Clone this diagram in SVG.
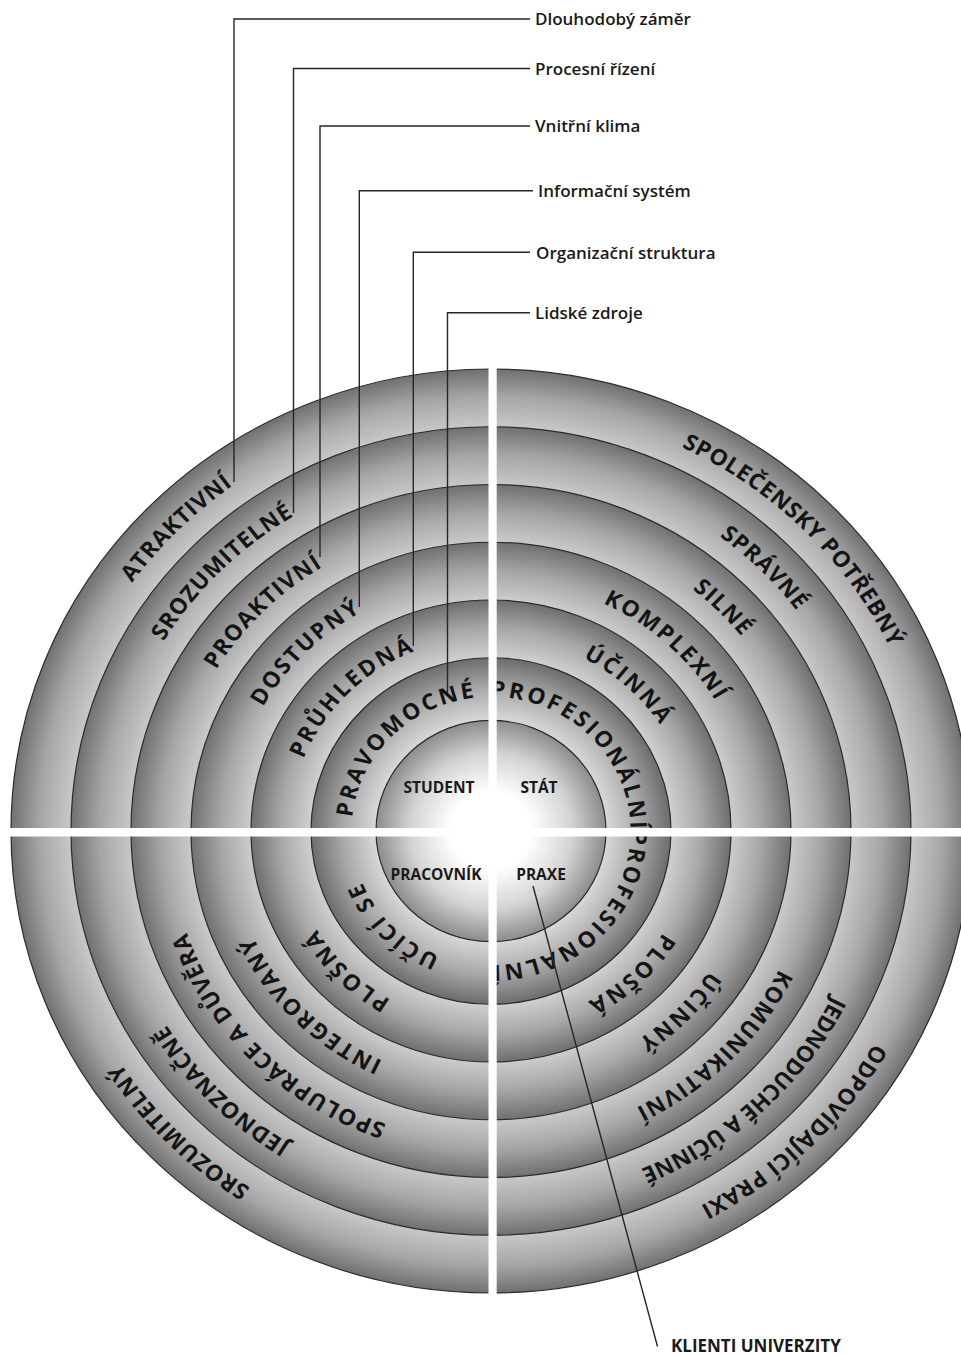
<svg xmlns="http://www.w3.org/2000/svg" width="961" height="1355" viewBox="0 0 961 1355">
  <defs>
    <!-- each ring: light at its inner edge, dark at its outer edge -->
    <radialGradient id="g-r1"><stop offset="0.875" stop-color="#c8c8c8"/><stop offset="0.94" stop-color="#a6a6a6"/><stop offset="1" stop-color="#707070"/></radialGradient>
    <radialGradient id="g-r2"><stop offset="0.857" stop-color="#c8c8c8"/><stop offset="0.93" stop-color="#a6a6a6"/><stop offset="1" stop-color="#707070"/></radialGradient>
    <radialGradient id="g-r3"><stop offset="0.833" stop-color="#cacaca"/><stop offset="0.917" stop-color="#a6a6a6"/><stop offset="1" stop-color="#707070"/></radialGradient>
    <radialGradient id="g-r4"><stop offset="0.8" stop-color="#cccccc"/><stop offset="0.9" stop-color="#a6a6a6"/><stop offset="1" stop-color="#707070"/></radialGradient>
    <radialGradient id="g-r5"><stop offset="0.75" stop-color="#d0d0d0"/><stop offset="0.875" stop-color="#a8a8a8"/><stop offset="1" stop-color="#6e6e6e"/></radialGradient>
    <radialGradient id="g-r6"><stop offset="0.639" stop-color="#d8d8d8"/><stop offset="0.82" stop-color="#aaaaaa"/><stop offset="1" stop-color="#6c6c6c"/></radialGradient>
    <radialGradient id="g-core"><stop offset="0" stop-color="#ffffff"/><stop offset="0.35" stop-color="#ffffff"/><stop offset="0.7" stop-color="#d4d4d4"/><stop offset="1" stop-color="#8c8c8c"/></radialGradient>

    <!-- clockwise quarter arcs used as text baselines (disc-centred coordinates) -->
    <path id="a1-tl" d="M -442 0 A 442 442 0 0 1 0 -442"/>
    <path id="a1-tr" d="M 0 -442 A 442 442 0 0 1 442 0"/>
    <path id="a1-br" d="M 442 0 A 442 442 0 0 1 0 442"/>
    <path id="a1-bl" d="M 0 442 A 442 442 0 0 1 -442 0"/>
    <path id="a2-tl" d="M -382 0 A 382 382 0 0 1 0 -382"/>
    <path id="a2-tr" d="M 0 -382 A 382 382 0 0 1 382 0"/>
    <path id="a2-br" d="M 382 0 A 382 382 0 0 1 0 382"/>
    <path id="a2-bl" d="M 0 382 A 382 382 0 0 1 -382 0"/>
    <path id="a3-tl" d="M -322 0 A 322 322 0 0 1 0 -322"/>
    <path id="a3-tr" d="M 0 -322 A 322 322 0 0 1 322 0"/>
    <path id="a3-br" d="M 322 0 A 322 322 0 0 1 0 322"/>
    <path id="a3-bl" d="M 0 322 A 322 322 0 0 1 -322 0"/>
    <path id="a4-tl" d="M -262 0 A 262 262 0 0 1 0 -262"/>
    <path id="a4-tr" d="M 0 -262 A 262 262 0 0 1 262 0"/>
    <path id="a4-br" d="M 262 0 A 262 262 0 0 1 0 262"/>
    <path id="a4-bl" d="M 0 262 A 262 262 0 0 1 -262 0"/>
    <path id="a5-tl" d="M -202 0 A 202 202 0 0 1 0 -202"/>
    <path id="a5-tr" d="M 0 -202 A 202 202 0 0 1 202 0"/>
    <path id="a5-br" d="M 202 0 A 202 202 0 0 1 0 202"/>
    <path id="a5-bl" d="M 0 202 A 202 202 0 0 1 -202 0"/>
    <path id="a6-tl" d="M -139.5 0 A 139.5 139.5 0 0 1 0 -139.5"/>
    <path id="a6-tr" d="M 0 -139.5 A 139.5 139.5 0 0 1 139.5 0"/>
    <path id="a6-br" d="M 139.5 0 A 139.5 139.5 0 0 1 0 139.5"/>
    <path id="a6-bl" d="M 0 139.5 A 139.5 139.5 0 0 1 -139.5 0"/>
  </defs>

  <style>
    .disc { stroke: #2b2b2b; stroke-width: 1.2; vector-effect: non-scaling-stroke; }
    .ring-label { font-family: "Open Sans", "Liberation Sans", sans-serif; font-weight: 700; font-size: 23px; fill: #141414; }
    .ls1 { letter-spacing: 0.6px; }
    .ls2 { letter-spacing: 0.8px; }
    .ls3 { letter-spacing: 1.2px; }
    .ls4 { letter-spacing: 2px; }
    .ls5 { letter-spacing: 2.4px; }
    .ls6 { letter-spacing: 2.6px; }
    .core-label { font-family: "Open Sans", "Liberation Sans", sans-serif; font-weight: 700; font-size: 15.5px; fill: #1a1a1a; text-anchor: middle; }
    .caption { font-family: "Open Sans", "Liberation Sans", sans-serif; font-weight: 600; font-size: 17px; fill: #1a1a1a; }
    .leader { stroke: #262626; stroke-width: 1.4; fill: none; }
    .divider { fill: #ffffff; }
  </style>

  <rect width="961" height="1355" fill="#ffffff"/>

  <!-- concentric rings, outermost first -->
  <g id="disc" transform="translate(491 831) scale(1 0.9625)">
    <g id="ring-1">
      <circle class="disc" r="480" fill="url(#g-r1)"/>
      <text class="ring-label ls1"><textPath href="#a1-tl" startOffset="50%" text-anchor="middle">ATRAKTIVNÍ</textPath></text>
      <text class="ring-label ls1"><textPath href="#a1-tr" startOffset="50%" text-anchor="middle">SPOLEČENSKY POTŘEBNÝ</textPath></text>
      <text class="ring-label ls1"><textPath href="#a1-br" startOffset="51%" text-anchor="middle">ODPOVÍDAJÍCÍ PRAXI</textPath></text>
      <text class="ring-label ls1"><textPath href="#a1-bl" startOffset="50%" text-anchor="middle">SROZUMITELNÝ</textPath></text>
    </g>
    <g id="ring-2">
      <circle class="disc" r="420" fill="url(#g-r2)"/>
      <text class="ring-label ls2"><textPath href="#a2-tl" startOffset="50%" text-anchor="middle">SROZUMITELNÉ</textPath></text>
      <text class="ring-label ls2"><textPath href="#a2-tr" startOffset="50%" text-anchor="middle">SPRÁVNÉ</textPath></text>
      <text class="ring-label" style="letter-spacing:-0.2px"><textPath href="#a2-br" startOffset="52%" text-anchor="middle">JEDNODUCHÉ A ÚČINNÉ</textPath></text>
      <text class="ring-label ls2"><textPath href="#a2-bl" startOffset="50%" text-anchor="middle">JEDNOZNAČNĚ</textPath></text>
    </g>
    <g id="ring-3">
      <circle class="disc" r="360" fill="url(#g-r3)"/>
      <text class="ring-label ls3"><textPath href="#a3-tl" startOffset="50%" text-anchor="middle">PROAKTIVNÍ</textPath></text>
      <text class="ring-label ls3"><textPath href="#a3-tr" startOffset="50%" text-anchor="middle">SILNÉ</textPath></text>
      <text class="ring-label ls3"><textPath href="#a3-br" startOffset="50%" text-anchor="middle">KOMUNIKATIVNÍ</textPath></text>
      <text class="ring-label ls3"><textPath href="#a3-bl" startOffset="50%" text-anchor="middle">SPOLUPRÁCE A DŮVĚRA</textPath></text>
    </g>
    <g id="ring-4">
      <circle class="disc" r="300" fill="url(#g-r4)"/>
      <text class="ring-label ls4"><textPath href="#a4-tl" startOffset="50%" text-anchor="middle">DOSTUPNÝ</textPath></text>
      <text class="ring-label ls4"><textPath href="#a4-tr" startOffset="47%" text-anchor="middle">KOMPLEXNÍ</textPath></text>
      <text class="ring-label ls4"><textPath href="#a4-br" startOffset="50%" text-anchor="middle">ÚČINNÝ</textPath></text>
      <text class="ring-label ls4"><textPath href="#a4-bl" startOffset="50%" text-anchor="middle">INTEGROVANÝ</textPath></text>
    </g>
    <g id="ring-5">
      <circle class="disc" r="240" fill="url(#g-r5)"/>
      <text class="ring-label ls5"><textPath href="#a5-tl" startOffset="50%" text-anchor="middle">PRŮHLEDNÁ</textPath></text>
      <text class="ring-label ls5"><textPath href="#a5-tr" startOffset="47%" text-anchor="middle">ÚČINNÁ</textPath></text>
      <text class="ring-label ls5"><textPath href="#a5-br" startOffset="52%" text-anchor="middle">PLOŠNÁ</textPath></text>
      <text class="ring-label ls5"><textPath href="#a5-bl" startOffset="50%" text-anchor="middle">PLOŠNÁ</textPath></text>
    </g>
    <g id="ring-6">
      <circle class="disc" r="180" fill="url(#g-r6)"/>
      <text class="ring-label ls6"><textPath href="#a6-tl" startOffset="50%" text-anchor="middle">PRAVOMOCNÉ</textPath></text>
      <text class="ring-label ls6"><textPath href="#a6-tr" startOffset="50%" text-anchor="middle">PROFESIONÁLNÍ</textPath></text>
      <text class="ring-label ls6"><textPath href="#a6-br" startOffset="50%" text-anchor="middle">PROFESIONALNÍ</textPath></text>
      <text class="ring-label ls6"><textPath href="#a6-bl" startOffset="50%" text-anchor="middle">UČÍCÍ SE</textPath></text>
    </g>
    <g id="core">
      <circle class="disc" r="115" fill="url(#g-core)"/>
    </g>
  </g>

  <!-- white cross splitting the disc into quadrants -->
  <g id="cross">
    <rect class="divider" x="488.5" y="360" width="8.2" height="945"/>
    <rect class="divider" x="0" y="828" width="961" height="8.5"/>
  </g>

  <!-- quadrant names in the core -->
  <g id="core-labels">
    <text class="core-label" x="439" y="793">STUDENT</text>
    <text class="core-label" x="539" y="793">STÁT</text>
    <text class="core-label" x="436" y="880">PRACOVNÍK</text>
    <text class="core-label" x="541" y="880">PRAXE</text>
  </g>

  <!-- leader lines -->
  <g id="connectors">
    <polyline class="leader" points="530,19 234,19 234,482"/>
    <polyline class="leader" points="530,68.5 293.5,68.5 293.5,513"/>
    <polyline class="leader" points="530,126 320,126 320,557"/>
    <polyline class="leader" points="533,190.7 359.3,190.7 359.3,607"/>
    <polyline class="leader" points="530,252.3 413.3,252.3 413.3,646"/>
    <polyline class="leader" points="530,312.7 447.5,312.7 447.5,693"/>
    <line class="leader" x1="533" y1="886" x2="657.5" y2="1346.5"/>
  </g>

  <!-- captions -->
  <g id="label-dlouhodoby"><text class="caption" x="535" y="25">Dlouhodobý záměr</text></g>
  <g id="label-procesni"><text class="caption" x="535" y="74.5">Procesní řízení</text></g>
  <g id="label-klima"><text class="caption" x="535" y="132">Vnitřní klima</text></g>
  <g id="label-informacni"><text class="caption" x="538" y="197">Informační systém</text></g>
  <g id="label-organizacni"><text class="caption" x="536" y="258.5">Organizační struktura</text></g>
  <g id="label-lidske"><text class="caption" x="535" y="319">Lidské zdroje</text></g>
  <g id="label-klienti"><text class="caption" x="671" y="1352" style="font-weight:700">KLIENTI UNIVERZITY</text></g>
</svg>
